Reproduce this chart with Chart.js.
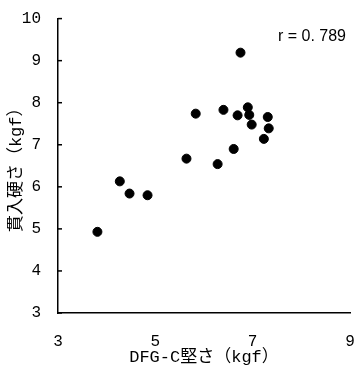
<!DOCTYPE html>
<html>
<head>
<meta charset="utf-8">
<script src="https://cdn.jsdelivr.net/npm/chart.js@4/dist/chart.umd.min.js"></script>
<style>
  html, body { margin: 0; padding: 0; background: #fff; }
</style>
</head>
<body>
<canvas id="scatter" width="360" height="376"></canvas>
<script>
// DFG-C hardness (x) vs penetration hardness (y)
const dfgC = [3.81, 4.27, 4.47, 4.84, 5.64, 6.28, 6.61, 5.83, 6.40, 6.69, 6.75, 6.90, 6.93, 6.98, 7.31, 7.33, 7.23];
const penetration = [4.93, 6.13, 5.84, 5.80, 6.67, 6.54, 6.90, 7.74, 7.83, 7.70, 9.19, 7.89, 7.71, 7.48, 7.66, 7.39, 7.14];
const xTicks = [3, 5, 7, 9];
const yTicks = [3, 4, 5, 6, 7, 8, 9, 10];
const rLabel = 'r = 0. 789';

const tickFont = { family: '"Liberation Mono", "DejaVu Sans Mono", monospace', size: 16 };
const titleFont = { family: '"Liberation Mono", "Noto Sans CJK JP", monospace', size: 17 };

// short tick marks on the inside of the y axis + the r value
const extras = {
  id: 'extras',
  afterDraw(chart) {
    const ctx = chart.ctx;
    const y = chart.scales.y;
    const area = chart.chartArea;
    ctx.save();
    ctx.strokeStyle = '#000';
    ctx.lineWidth = 1.5;
    yTicks.forEach(v => {
      const py = y.getPixelForValue(v);
      ctx.beginPath();
      ctx.moveTo(area.left, py);
      ctx.lineTo(area.left + 4, py);
      ctx.stroke();
    });
    ctx.fillStyle = '#000';
    ctx.font = '16px "Liberation Sans", sans-serif';
    ctx.textAlign = 'right';
    ctx.textBaseline = 'middle';
    ctx.fillText(rLabel, area.right - 4, 37);
    ctx.restore();
  }
};

new Chart(document.getElementById('scatter'), {
  type: 'scatter',
  data: {
    datasets: [{
      data: dfgC.map((x, i) => ({ x: x, y: penetration[i] })),
      backgroundColor: '#000',
      borderColor: '#000',
      pointRadius: 4.5,
      pointHoverRadius: 4.5
    }]
  },
  options: {
    responsive: false,
    animation: false,
    layout: { padding: { top: 13, right: 0, left: 0, bottom: 0 } },
    plugins: { legend: { display: false }, tooltip: { enabled: false } },
    scales: {
      x: {
        min: 3, max: 9,
        afterBuildTicks: s => { s.ticks = xTicks.map(v => ({ value: v })); },
        afterFit: s => { s.height = 63; s.paddingLeft = 0; s.paddingRight = 10; },
        grid: { display: false },
        border: { display: true, color: '#000', width: 1.5 },
        ticks: { color: '#000', font: tickFont, padding: 11, maxRotation: 0 },
        title: { display: true, text: 'DFG-C堅さ（kgf）', color: '#000', font: titleFont, padding: { top: 0, bottom: 8 } }
      },
      y: {
        min: 3, max: 10,
        afterBuildTicks: s => { s.ticks = yTicks.map(v => ({ value: v })); },
        afterFit: s => { s.width = 58; },
        grid: { display: false },
        border: { display: true, color: '#000', width: 1.5 },
        ticks: { color: '#000', font: tickFont, padding: 9 },
        title: { display: true, text: '貫入硬さ（kgf）', color: '#000', font: titleFont, padding: { top: 6, bottom: 0 } }
      }
    }
  },
  plugins: [extras]
});
</script>
</body>
</html>
